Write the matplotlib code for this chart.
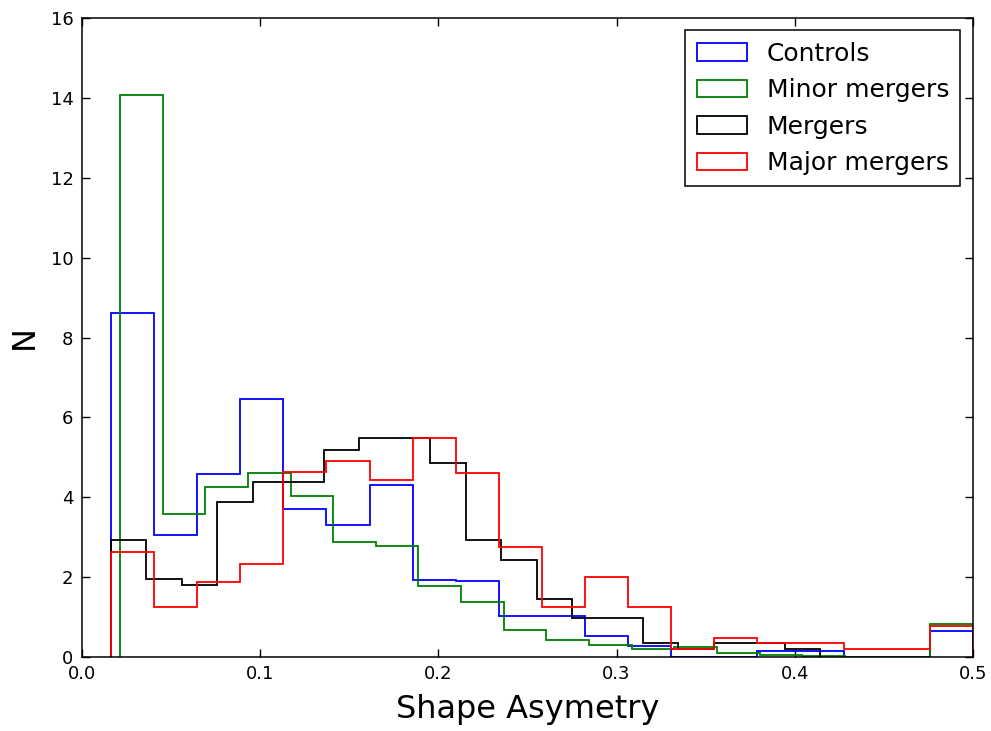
import numpy as np
import matplotlib
matplotlib.use("Agg")
import matplotlib.pyplot as plt

# bin ranges (min, max of each sample) and the 20 bin heights
controls_range = (0.0163, 0.5)
controls = [8.62, 3.06, 4.57, 6.47, 3.70, 3.31, 4.31, 1.92, 1.91, 1.03,
            1.03, 0.53, 0.28, 0.0, 0.0, 0.15, 0.15, 0.0, 0.0, 0.66]

minor_range = (0.0213, 0.5)
minor = [14.07, 3.57, 4.25, 4.61, 4.03, 2.88, 2.78, 1.78, 1.38, 0.675,
         0.42, 0.31, 0.19, 0.26, 0.09, 0.05, 0.03, 0.0, 0.0, 0.82]

mergers_range = (0.0163, 0.4143)
mergers = [2.92, 1.95, 1.80, 3.88, 4.37, 4.37, 5.18, 5.49, 5.49, 4.86,
           2.94, 2.43, 1.46, 0.98, 0.98, 0.35, 0.19, 0.34, 0.34, 0.19]

major_range = (0.0163, 0.5)
major = [2.62, 1.24, 1.87, 2.32, 4.62, 4.90, 4.44, 5.49, 4.61, 2.76,
         1.24, 2.0, 1.24, 0.19, 0.47, 0.34, 0.34, 0.19, 0.19, 0.78]

labels = ["Controls", "Minor mergers", "Mergers", "Major mergers"]
colors = ["b", "g", "k", "r"]

fig = plt.figure(figsize=(9.91, 7.31), dpi=100)
ax = fig.add_axes([0.0827, 0.1012, 0.8991, 0.8742])

series = [(controls_range, controls), (minor_range, minor),
          (mergers_range, mergers), (major_range, major)]
for (rng, vals), lab, col in zip(series, labels, colors):
    edges = np.linspace(rng[0], rng[1], len(vals) + 1)
    ax.hist(edges[:-1], bins=edges, weights=vals, histtype="step",
            color=col, lw=1.3, label=lab)

ax.set_xlim(0, 0.5)
ax.set_ylim(0, 16)
ax.set_xticks([0.0, 0.1, 0.2, 0.3, 0.4, 0.5])
ax.set_yticks(range(0, 17, 2))
ax.tick_params(direction="in", top=True, right=True, length=6, width=1,
               labelsize=13, pad=6)
for s in ax.spines.values():
    s.set_linewidth(1.1)

ax.set_xlabel("Shape Asymetry", fontsize=23, labelpad=8)
ax.set_ylabel("N", fontsize=23, labelpad=8)

leg = ax.legend(loc="upper right", fontsize=18, fancybox=False,
                edgecolor="black", framealpha=1, borderaxespad=0.5,
                borderpad=0.45)
leg.get_frame().set_linewidth(1.1)

fig.savefig("out.png", dpi=100)
